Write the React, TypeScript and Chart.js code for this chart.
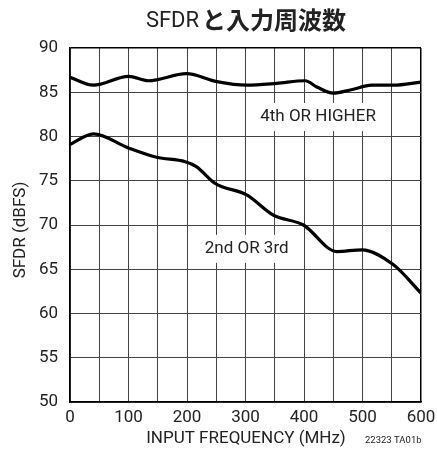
import React, { useEffect, useRef } from "react";
import { Chart, registerables } from "chart.js";

Chart.register(...registerables);

const titleLatin = "SFDR";
const titleJp = "と入力周波数";
const xTitle = "INPUT FREQUENCY (MHz)";
const yTitle = "SFDR (dBFS)";
const figNote = "22323 TA01b";
const upperLabel = "4th OR HIGHER";
const lowerLabel = "2nd OR 3rd";

const upperX = [0, 40, 100, 134, 199, 251, 302, 353, 402, 422, 450, 479, 516, 553, 600];
const upperY = [86.7, 85.8, 86.8, 86.3, 87.1, 86.2, 85.8, 86.0, 86.3, 85.6, 84.9, 85.25, 85.8, 85.8, 86.15];

const lowerX = [0, 40, 100, 148, 197, 216, 248, 302, 348, 399, 456, 499, 553, 600];
const lowerY = [79.1, 80.3, 78.7, 77.65, 77.15, 76.6, 74.7, 73.4, 71.1, 70.0, 67.0, 67.2, 65.5, 62.3];

const FONT = 'Roboto, "Liberation Sans", sans-serif';

const textPlugin = {
  id: "texts",
  beforeDatasetsDraw(chart: any) {
    const { ctx, scales } = chart;
    const x = scales.x;
    const y = scales.y;
    ctx.save();
    ctx.font = `17px ${FONT}`;
    ctx.textAlign = "center";
    ctx.textBaseline = "middle";
    const drawLabel = (text: string, xv: number, yv: number) => {
      const px = x.getPixelForValue(xv);
      const py = y.getPixelForValue(yv);
      const w = ctx.measureText(text).width;
      ctx.fillStyle = "#ffffff";
      ctx.fillRect(px - w / 2 - 4, py - 14, w + 8, 28);
      ctx.fillStyle = "#222";
      ctx.fillText(text, px, py);
    };
    drawLabel(upperLabel, 424, 82.2);
    drawLabel(lowerLabel, 302, 67.3);
    ctx.restore();
  },
  afterDraw(chart: any) {
    const { ctx } = chart;
    ctx.save();
    ctx.fillStyle = "#222";
    // Title
    ctx.textBaseline = "middle";
    ctx.font = `22px ${FONT}`;
    const w1 = ctx.measureText(titleLatin).width;
    ctx.font = `bold 24px "Noto Sans CJK JP", sans-serif`;
    const w2 = ctx.measureText(titleJp).width;
    const gap = 3;
    const total = w1 + gap + w2;
    const cx = 246;
    const sx = cx - total / 2;
    ctx.textAlign = "left";
    ctx.font = `22px ${FONT}`;
    ctx.fillText(titleLatin, sx, 21);
    ctx.font = `bold 24px "Noto Sans CJK JP", sans-serif`;
    ctx.fillText(titleJp, sx + w1 + gap, 20);
    // X title
    ctx.font = `17px ${FONT}`;
    ctx.textAlign = "center";
    ctx.fillText(xTitle, 246, 439);
    // note
    ctx.font = `9.5px ${FONT}`;
    ctx.textAlign = "left";
    ctx.fillText(figNote, 365, 441);
    // Y title
    ctx.font = `17px ${FONT}`;
    ctx.translate(21, 230);
    ctx.rotate(-Math.PI / 2);
    ctx.textAlign = "center";
    ctx.fillText(yTitle, 0, 0);
    ctx.restore();
  },
};

export default function App() {
  const ref = useRef<HTMLCanvasElement>(null);
  useEffect(() => {
    if (!ref.current) return;
    const chart = new Chart(ref.current, {
      type: "line",
      data: {
        datasets: [
          {
            data: upperX.map((v, i) => ({ x: v, y: upperY[i] })),
            borderColor: "#000",
            borderWidth: 3.2,
            pointRadius: 0,
            cubicInterpolationMode: "monotone",
            fill: false,
          },
          {
            data: lowerX.map((v, i) => ({ x: v, y: lowerY[i] })),
            borderColor: "#000",
            borderWidth: 3.2,
            pointRadius: 0,
            cubicInterpolationMode: "monotone",
            fill: false,
          },
        ],
      },
      options: {
        animation: false,
        responsive: false,
        devicePixelRatio: 1,
        layout: { padding: { top: 48, right: 16, left: 0, bottom: 0 } },
        plugins: { legend: { display: false }, tooltip: { enabled: false }, title: { display: false } },
        scales: {
          x: {
            type: "linear",
            min: 0,
            max: 600,
            afterFit: (s: any) => {
              s.height = 51;
              s.paddingRight = 0;
              s.paddingLeft = 0;
            },
            ticks: {
              stepSize: 50,
              autoSkip: false,
              maxRotation: 0,
              padding: 6,
              color: "#222",
              font: { family: FONT, size: 17 },
              callback: (v: any) => (Number(v) % 100 === 0 ? String(v) : ""),
            },
            grid: {
              drawTicks: false,
              color: (c: any) => (c.tick && c.tick.value === 600 ? "#000" : "#444"),
              lineWidth: (c: any) => (c.tick && c.tick.value === 600 ? 1.5 : 1),
            },
            border: { color: "#000", width: 1.5 },
          },
          y: {
            type: "linear",
            min: 50,
            max: 90,
            afterFit: (s: any) => {
              s.width = 70;
              s.paddingTop = 0;
              s.paddingBottom = 0;
            },
            ticks: {
              stepSize: 5,
              padding: 12,
              color: "#222",
              font: { family: FONT, size: 17 },
            },
            grid: {
              drawTicks: false,
              color: (c: any) => (c.tick && c.tick.value === 90 ? "#000" : "#444"),
              lineWidth: (c: any) => (c.tick && c.tick.value === 90 ? 1.5 : 1),
            },
            border: { color: "#000", width: 1.5 },
          },
        },
      },
      plugins: [textPlugin],
    } as any);
    return () => chart.destroy();
  }, []);
  return (
    <div style={{ position: "fixed", left: 0, top: 0, width: 437, height: 453, background: "#fff" }}>
      <canvas ref={ref} width={437} height={453} style={{ width: 437, height: 453 }} />
    </div>
  );
}
